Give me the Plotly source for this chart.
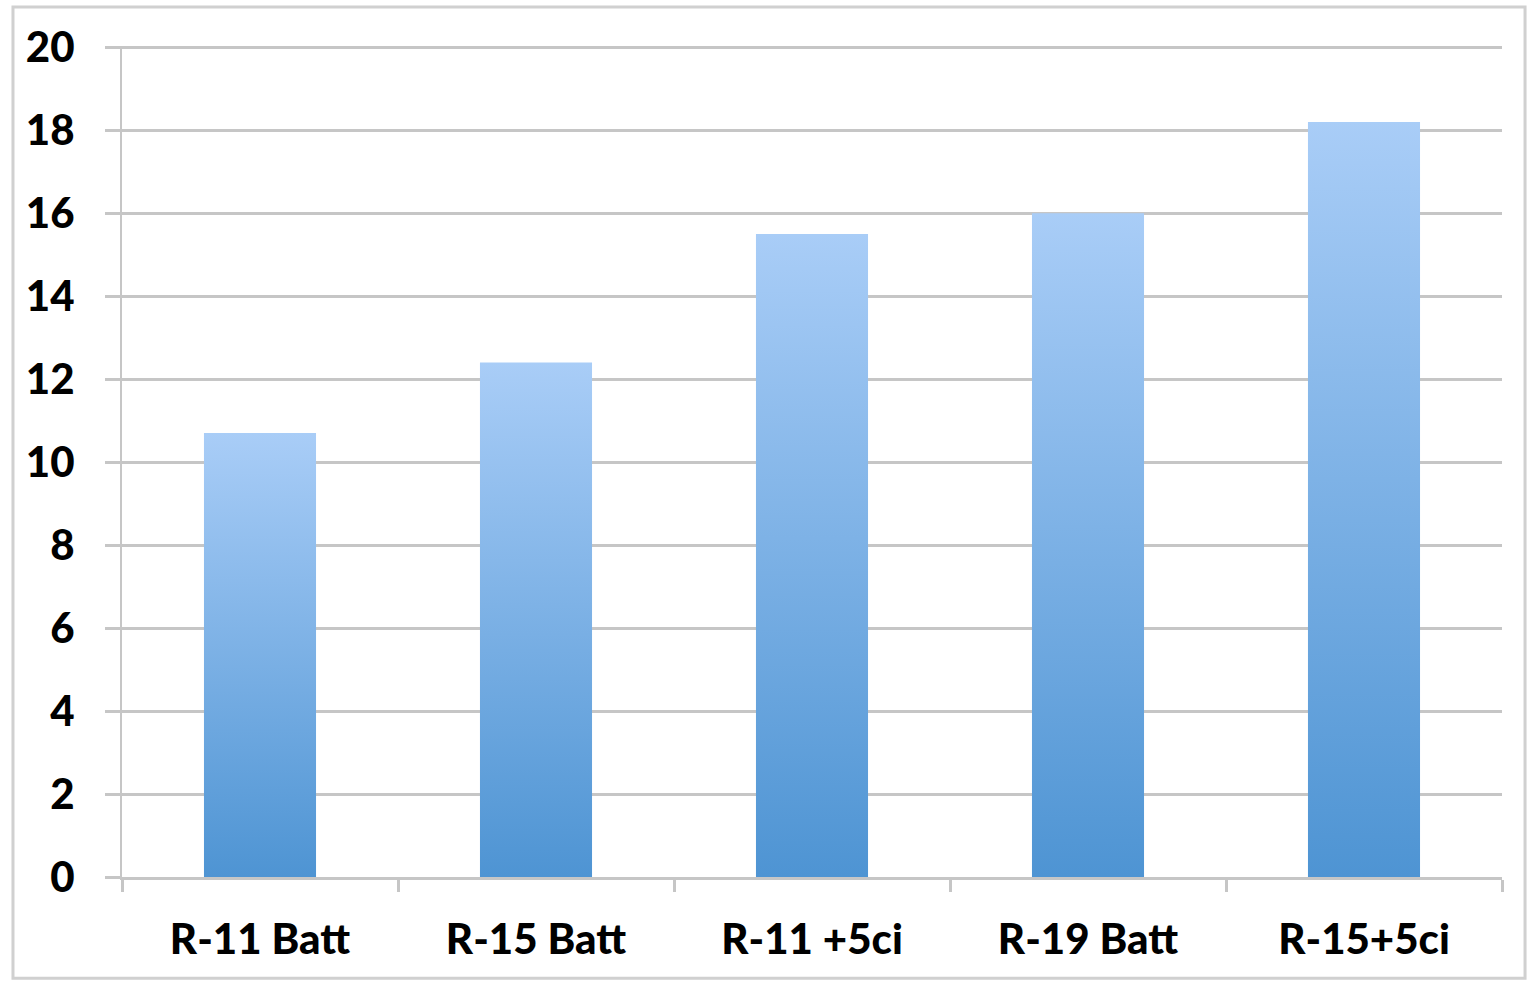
import plotly.graph_objects as go

categories = ["R-11 Batt", "R-15 Batt", "R-11 +5ci", "R-19 Batt", "R-15+5ci"]
values = [10.7, 12.4, 15.5, 16.0, 18.2]
y_ticks = [0, 2, 4, 6, 8, 10, 12, 14, 16, 18, 20]

BAR_W = 0.406
GRID = "#c6c6c6"
FONT = dict(family="Lato, Open Sans, sans-serif", size=42, color="#000000", weight=900)

fig = go.Figure()
for i, (cat, v) in enumerate(zip(categories, values)):
    x0, x1 = i - BAR_W / 2, i + BAR_W / 2
    fig.add_trace(go.Scatter(
        x=[x0, x1, x1, x0, x0], y=[0, 0, v, v, 0],
        mode="lines", line=dict(width=0, color="rgba(0,0,0,0)"),
        fill="toself",
        fillgradient=dict(type="vertical",
                          colorscale=[[0, "#4e94d3"], [1, "#a9cdf7"]]),
        name=cat, hoverinfo="skip", showlegend=False,
    ))

# invisible trace on secondary x-axis for category-boundary ticks
fig.add_trace(go.Scatter(x=[-0.5, len(categories) - 0.5], y=[0, 0], xaxis="x2",
                         mode="lines", line=dict(width=0), hoverinfo="skip",
                         showlegend=False))

fig.update_layout(
    width=1531, height=983,
    margin=dict(l=122, r=29, t=46, b=106),
    paper_bgcolor="white", plot_bgcolor="white",
    xaxis=dict(
        range=[-0.5, len(categories) - 0.5],
        tickvals=list(range(len(categories))), ticktext=categories,
        ticks="", showgrid=False, zeroline=False, showline=False,
        tickfont=FONT, ticklabelstandoff=34,
    ),
    xaxis2=dict(
        range=[-0.5, len(categories) - 0.5], overlaying="x", side="bottom",
        tickvals=[i - 0.5 for i in range(len(categories) + 1)],
        showticklabels=False, ticks="outside", ticklen=12, tickwidth=3,
        tickcolor=GRID, showgrid=False, zeroline=False,
        showline=True, linecolor=GRID, linewidth=3,
    ),
    yaxis=dict(
        range=[0, 20.03], tickvals=y_ticks,
        showgrid=True, gridcolor=GRID, gridwidth=3,
        zeroline=False, showline=True, linecolor=GRID, linewidth=2,
        ticks="outside", ticklen=15, tickwidth=3, tickcolor=GRID,
        tickfont=FONT, ticklabelstandoff=22,
    ),
    shapes=[dict(type="rect", xref="paper", yref="paper",
                 x0=-0.079, x1=1.0167, y0=-0.1217, y1=1.047,
                 line=dict(color="#d0d0d0", width=3), layer="below")],
)

fig.write_html("out.html")
